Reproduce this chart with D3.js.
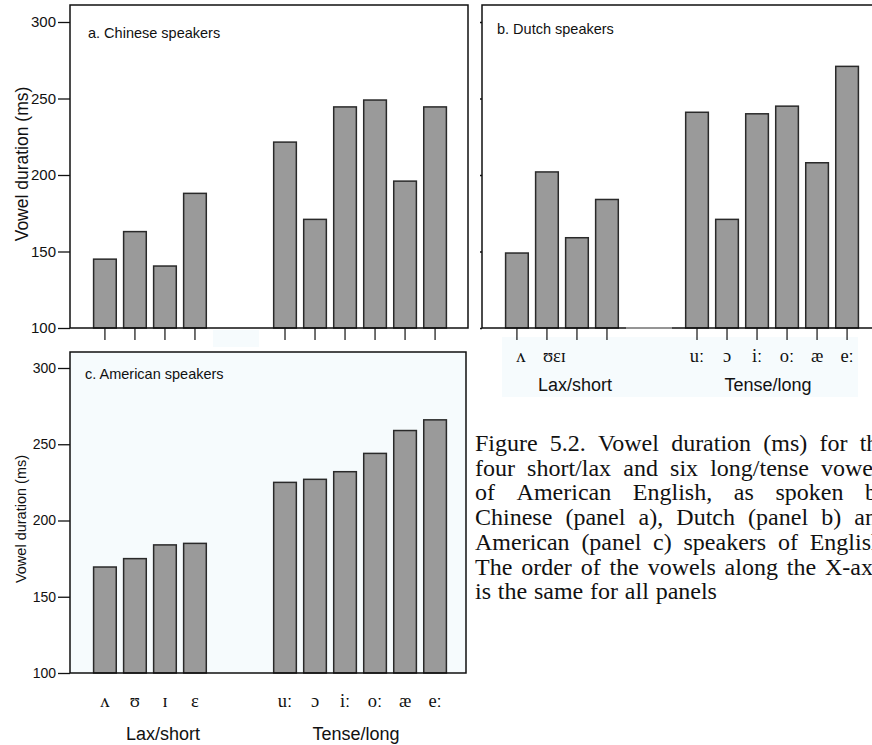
<!DOCTYPE html>
<html lang="en">
<head>
<meta charset="UTF-8">
<title>Vowel duration</title>
<script src="https://d3js.org/d3.v7.min.js"></script>
<style>
  body { margin: 0; background: #fff; overflow: hidden; }
  svg { display: block; }
  .sans { font-family: "Liberation Sans", Arial, sans-serif; }
  .serif { font-family: "Liberation Serif", "Times New Roman", serif; }
</style>
</head>
<body>
<svg width="872" height="745"></svg>
<script>
// ---- data ----
const vowels = ["ʌ", "ʊ", "ɪ", "ɛ", "uː", "ɔ", "iː", "oː", "æ", "eː"];
const laxCount = 4;
const dutchLaxLabel = "ʊɛɪ";   // panel b prints these three run together
const chinese  = [145, 163, 140.5, 188, 221.5, 171, 244.5, 249, 196, 244.5];
const dutch    = [149, 202, 159, 184, 241, 171, 240, 245, 208, 271];
const american = [169.5, 175, 184, 185, 225, 227, 232, 244, 259, 266];
const yTicks = [100, 150, 200, 250, 300];
const groupLabels = ["Lax/short", "Tense/long"];
const yTitle = "Vowel duration (ms)";
const panelTitles = ["a. Chinese speakers", "b. Dutch speakers", "c. American speakers"];
const captionLines = [
  "Figure 5.2. Vowel duration (ms) for the",
  "four short/lax and six long/tense vowels",
  "of American English, as spoken by",
  "Chinese (panel a), Dutch (panel b) and",
  "American (panel c) speakers of English.",
  "The order of the vowels along the X-axis",
  "is the same for all panels"
];

const svg = d3.select("svg");

// slots: 4 lax vowels, 2 empty slots, 6 tense vowels
const slots = vowels.slice(0, laxCount).concat(["_g1", "_g2"], vowels.slice(laxCount));

function panel(opt) {
  const g = svg.append("g");
  const L = opt.left, R = opt.right, T = opt.top, B = opt.bottom;

  if (opt.bg) {
    g.append("rect").attr("x", L).attr("y", T).attr("width", R - L).attr("height", B - T)
      .attr("fill", opt.bg);
  }

  const x = d3.scaleBand().domain(slots).range([L + 20, L + 380]).paddingInner(0.245).paddingOuter(0.12);
  const y = d3.scaleLinear().domain([100, 300]).range([B, opt.y300]);

  // bars
  g.append("g").selectAll("rect")
    .data(opt.values)
    .join("rect")
    .attr("x", (d, i) => x(vowels[i]))
    .attr("width", x.bandwidth())
    .attr("y", d => y(d))
    .attr("height", d => y(100) - y(d))
    .attr("fill", "#9a9a9a")
    .attr("stroke", "#2a2a2a")
    .attr("stroke-width", 1.5);

  // y axis ticks
  const ya = g.append("g").attr("transform", `translate(${L},0)`)
    .call(d3.axisLeft(y).tickValues(yTicks).tickSize(opt.tickLen)
      .tickPadding(2).tickFormat(opt.tickLabels ? d3.format("d") : ""));
  ya.select(".domain").remove();
  ya.selectAll("line").attr("stroke", "#111").attr("stroke-width", 1.3);
  ya.selectAll("text").attr("class", "sans").attr("font-size", opt.tickFont).attr("fill", "#111");

  // frame
  const frame = g.append("path")
    .attr("fill", "none").attr("stroke", "#111").attr("stroke-width", 1.5);
  if (opt.closedRight) {
    frame.attr("d", `M${L},${B}V${T}H${R}V${B}H${L}`);
  } else {
    frame.attr("d", `M${R},${T}H${L}V${B}H${R}`);
  }

  // x tick marks
  if (opt.xTicks) {
    g.append("g").selectAll("line")
      .data(vowels)
      .join("line")
      .attr("x1", d => x(d) + x.bandwidth() / 2)
      .attr("x2", d => x(d) + x.bandwidth() / 2)
      .attr("y1", B)
      .attr("y2", B + 12)
      .attr("stroke", "#111")
      .attr("stroke-width", 1.2);
  }

  // panel title
  g.append("text").attr("class", "sans")
    .attr("x", opt.titleX).attr("y", opt.titleY)
    .attr("font-size", 14.5).attr("fill", "#111")
    .text(opt.title);

  // y title
  if (opt.yTitleFont) {
    g.append("text").attr("class", "sans")
      .attr("transform", `translate(${opt.yTitleX},${opt.yTitleY}) rotate(-90)`)
      .attr("text-anchor", "middle")
      .attr("font-size", opt.yTitleFont).attr("fill", "#111")
      .text(yTitle);
  }

  return { g, x, y };
}

// ---- panel c (drawn first, it sits under panel a's ticks) ----
const pc = panel({
  left: 70, right: 466, top: 352, bottom: 673, y300: 368,
  values: american, bg: "#f6fbfd", closedRight: true,
  tickLen: 12, tickLabels: true, tickFont: 14,
  title: panelTitles[2], titleX: 85, titleY: 379,
  yTitleFont: 14.5, yTitleX: 26, yTitleY: 519
});

// ---- panel b ----
svg.append("rect").attr("x", 502).attr("y", 337).attr("width", 356).attr("height", 60).attr("fill", "#f6fbfd");
const pb = panel({
  left: 482, right: 872, top: 5, bottom: 328, y300: 22,
  values: dutch, closedRight: false,
  tickLen: 2, tickLabels: false, tickFont: 12, xTicks: true,
  title: panelTitles[1], titleX: 497, titleY: 34
});
// faded stretch of the base line between the groups
svg.append("line").attr("x1", 626).attr("x2", 672).attr("y1", 328).attr("y2", 328)
  .attr("stroke", "#fff").attr("stroke-width", 1.5).attr("opacity", 0.55);

// ---- panel a ----
svg.append("rect").attr("x", 213).attr("y", 330).attr("width", 46).attr("height", 17).attr("fill", "#f6fbfd");
const pa = panel({
  left: 70, right: 468, top: 5, bottom: 328, y300: 22,
  values: chinese, closedRight: true,
  tickLen: 12, tickLabels: true, tickFont: 15, xTicks: true,
  title: panelTitles[0], titleX: 88, titleY: 38,
  yTitleFont: 17.5, yTitleX: 28, yTitleY: 164
});

// ---- vowel labels and group labels ----
function vowelLabels(p, baseY, groupY, squeezed) {
  const cx = d => p.x(d) + p.x.bandwidth() / 2;
  const lab = p.g.append("g").attr("class", "serif").attr("font-size", 18.5).attr("fill", "#111");
  if (squeezed) {
    lab.append("text").attr("x", cx(vowels[0]) + 4).attr("y", baseY)
      .attr("text-anchor", "middle").text(vowels[0]);
    lab.append("text").attr("x", cx(vowels[1]) - 4).attr("y", baseY)
      .text(squeezed);
  } else {
    lab.selectAll("text.lax").data(vowels.slice(0, laxCount)).join("text")
      .attr("class", "lax").attr("x", cx).attr("y", baseY)
      .attr("text-anchor", "middle").text(d => d);
  }
  lab.selectAll("text.tense").data(vowels.slice(laxCount)).join("text")
    .attr("class", "tense").attr("x", cx).attr("y", baseY)
    .attr("text-anchor", "middle").text(d => d);

  const laxMid = d3.mean(vowels.slice(0, laxCount), cx) + 13;
  const tenseMid = d3.mean(vowels.slice(laxCount), cx) - 4;
  p.g.append("g").attr("class", "sans").attr("font-size", 18).attr("fill", "#111")
    .selectAll("text").data(groupLabels).join("text")
    .attr("x", (d, i) => i === 0 ? laxMid : tenseMid)
    .attr("y", groupY)
    .attr("text-anchor", "middle")
    .text(d => d);
}
vowelLabels(pb, 362, 391, dutchLaxLabel);
vowelLabels(pc, 707, 740, null);

// ---- caption, justified lines (the page edge cuts them, as in the scan) ----
const capLeft = 475, capRight = 889, capTop = 451, capStep = 24.7;
const cap = svg.append("g").attr("class", "serif").attr("font-size", 24).attr("fill", "#111");
captionLines.forEach((line, li) => {
  const words = line.split(" ");
  const yy = capTop + li * capStep;
  const nodes = words.map(w => cap.append("text").attr("y", yy).text(w));
  const widths = nodes.map(n => n.node().getComputedTextLength());
  const last = li === captionLines.length - 1;
  const gap = last ? 6.8 : (capRight - capLeft - d3.sum(widths)) / (words.length - 1);
  let xx = capLeft;
  nodes.forEach((n, i) => { n.attr("x", xx); xx += widths[i] + gap; });
});
</script>
</body>
</html>
